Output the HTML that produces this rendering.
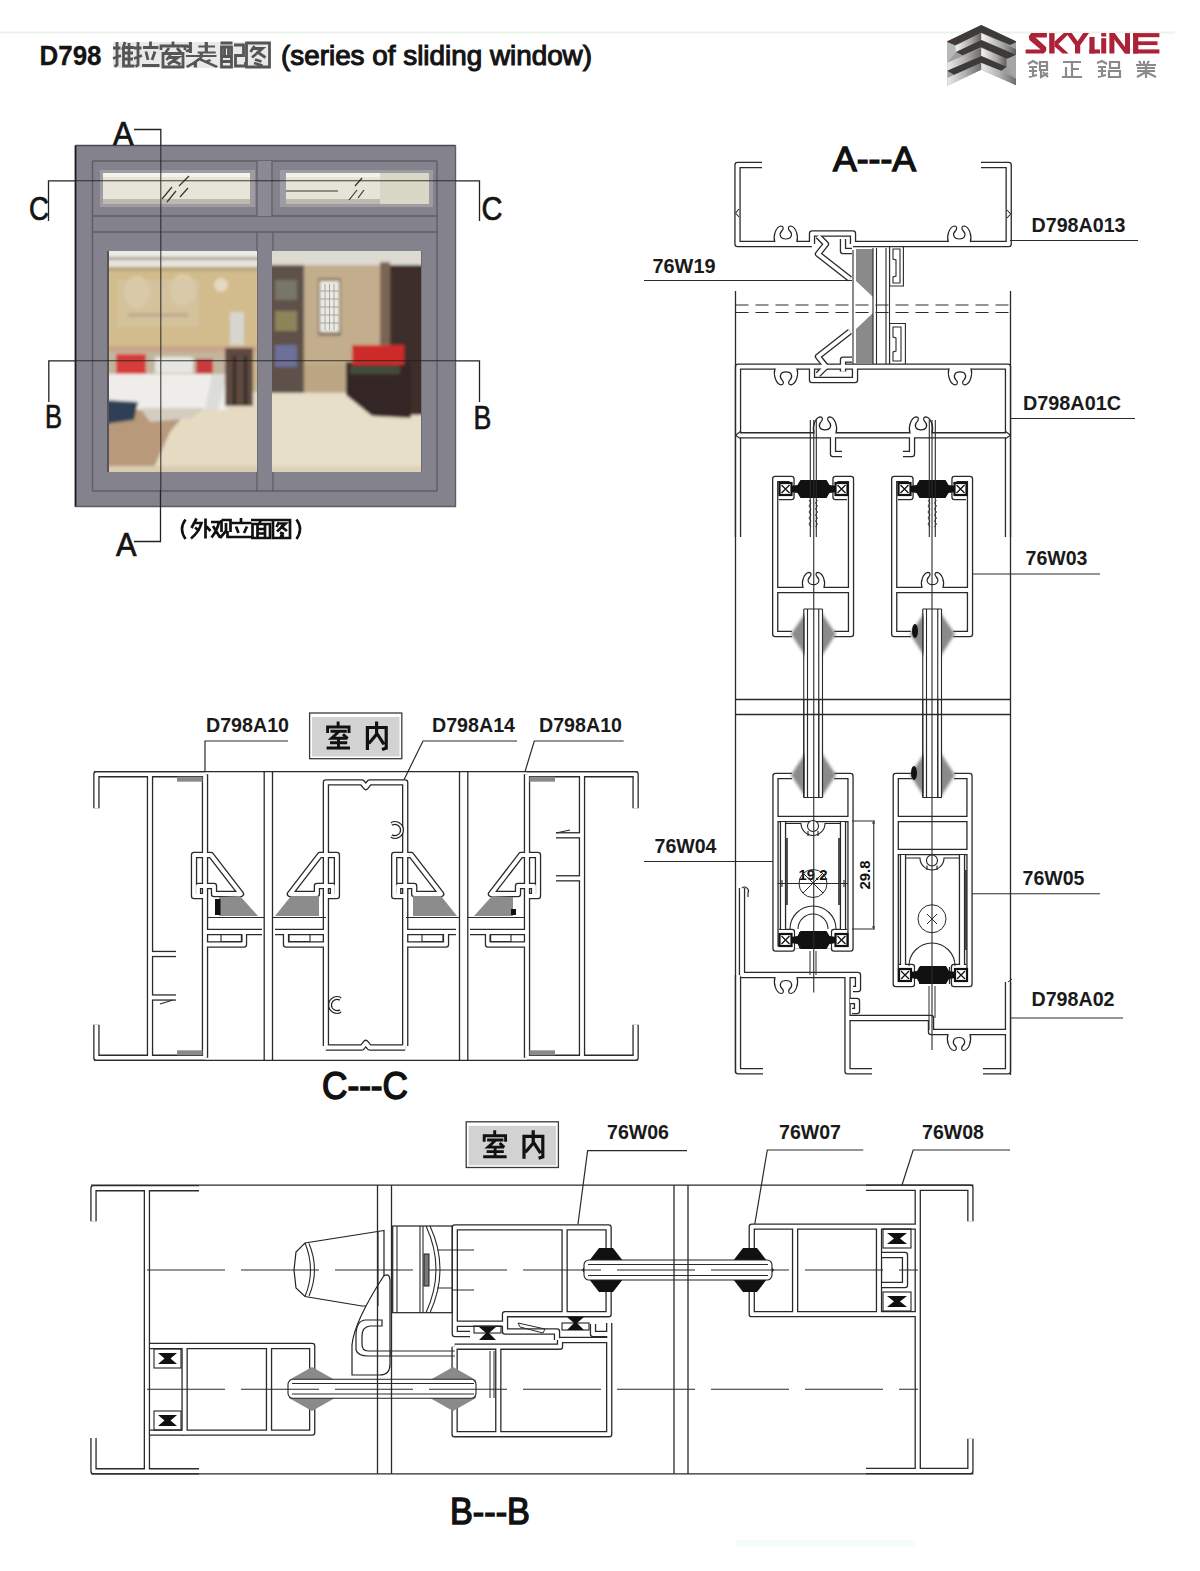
<!DOCTYPE html>
<html><head><meta charset="utf-8">
<style>
html,body{margin:0;padding:0;background:#fff;width:1200px;height:1571px;overflow:hidden}
svg{display:block;position:absolute;left:0;top:0}
text{font-family:"Liberation Sans",sans-serif}
</style></head><body>
<svg width="1200" height="1571" viewBox="0 0 1200 1571">
<defs>
<linearGradient id="lgA" x1="0" y1="0" x2="1" y2="0"><stop offset="0" stop-color="#f2f2f2"/><stop offset="0.55" stop-color="#a5a5a5"/><stop offset="1" stop-color="#6e6e6e"/></linearGradient>
<linearGradient id="lgB" x1="0" y1="0" x2="1" y2="0"><stop offset="0" stop-color="#d0d0d0"/><stop offset="1" stop-color="#7a7a7a"/></linearGradient>
<linearGradient id="wall1" x1="0" y1="0" x2="0" y2="1"><stop offset="0" stop-color="#c9b690"/><stop offset="1" stop-color="#cdb48a"/></linearGradient>
<radialGradient id="lamp" cx="0.5" cy="0.5" r="0.5"><stop offset="0" stop-color="#f3ead2"/><stop offset="1" stop-color="#f3ead2" stop-opacity="0"/></radialGradient>
<filter id="blur1" x="-20%" y="-20%" width="140%" height="140%"><feGaussianBlur stdDeviation="1.6"/></filter>
<filter id="blur05"><feGaussianBlur stdDeviation="0.6"/></filter>
</defs>
<rect width="1200" height="1571" fill="#fff"/>
<line x1="0" y1="32.5" x2="1175" y2="32.5" stroke="#e9f4ea" stroke-width="2"/>

<rect x="735" y="1540" width="180" height="7" fill="#eef7f7" opacity="0.5"/>
<!-- TITLE -->
<text x="39.5" y="65" font-size="28" font-weight="bold" fill="#141414" stroke="#141414" stroke-width="0.3" textLength="62" lengthAdjust="spacingAndGlyphs">D798</text>
<g filter="url(#blur05)">
<rect x="113" y="42" width="157" height="26" fill="#cfcfcf" opacity="0.45"/>
<g stroke="#555" stroke-width="2.8" fill="none">
<path d="M113,48 H120.5 M117,42 V65 L114.5,66.5 M113,58.5 L121,55.5 M125,42 L122.5,50 M123.5,47 V67.5 M129,43 V66 M123.5,47.5 H134 M123.5,53 H133 M123.5,59 H133 M123.5,66 H134.5"/>
<path d="M134,48 H141.5 M138,42 V65 L135.5,66.5 M134,58.5 L142,55.5 M150.5,41.5 V46 M143,47.5 H158.5 M146,51.5 L148,60 M155,51.5 L152,60 M142,65.5 H159.5"/>
<path d="M173,41.5 V45 M161,50 V46 H185 V50 M169,48 L165.5,52.5 M177,48 L181,52.5 M163,53.5 H183 V67 H163 Z M170.5,55 L166.5,60 M168,57.5 H178 L168,64.5 M172.5,60 L180.5,64.5"/>
<path transform="translate(186,0) scale(1.45,1) translate(-187,0)" stroke-width="2.2" d="M190,42 V53 M187,45 L189,47.5 M187,51.5 L191,49 M195.5,46.5 H207 M201,42 V52.5 M195,52.5 H207.5 M187,56 H208 M197.5,53.5 V57.5 M197.5,57.5 Q193,63 187.5,67 M197,59.5 L208.5,67 M193.5,62 V67.5 M200,62 L204,60"/>
<path d="M220.5,43 H232.5 M221.5,47 H231.5 V67 H221.5 Z M224.5,47 V55 M228.5,47 V55 M221.5,56.5 H231.5 M221.5,61.5 H231.5 M234,45 H243.5 V55.5 H235.5 V66 H245.5 V62"/>
<path d="M246.5,43 H269.5 V67 H246.5 Z M254.5,46 L250.5,52 M253,48.5 H262.5 L252,57.5 M256.5,51.5 L265.5,57.5 M255,59.5 L261.5,61.5 M254,63 L262.5,65.5"/>
</g>
</g>
<text x="281" y="65" font-size="28" fill="#141414" stroke="#141414" stroke-width="1.1" textLength="311" lengthAdjust="spacingAndGlyphs">(series of sliding window)</text>

<!-- LOGO emblem -->
<g>
<linearGradient id="lgC" x1="0" y1="0" x2="1" y2="0"><stop offset="0" stop-color="#e8e8e8"/><stop offset="0.5" stop-color="#b4b4b4"/><stop offset="1" stop-color="#6c6c6c"/></linearGradient>
<linearGradient id="lgD" x1="0" y1="0" x2="1" y2="0"><stop offset="0" stop-color="#f4f4f4"/><stop offset="0.6" stop-color="#a8a8a8"/><stop offset="1" stop-color="#5e5e5e"/></linearGradient>
<polygon points="947.3,41.3 981.3,25 1016,41.3 1016,85.3 981.3,69.7 947.3,85.7" fill="#9e9e9e"/>
<polygon points="947.3,42 955.3,45.7 956,52 947.3,62.7" fill="#b9b9b9"/>
<polygon points="955.3,45.7 981.3,33 981.3,40 956,52" fill="url(#lgD)"/>
<polygon points="981.3,33 1016,49.3 1016,54.7 981.3,40" fill="url(#lgD)"/>
<polygon points="947.3,62.7 981.3,48 981.3,56 947.3,70.7" fill="url(#lgC)"/>
<polygon points="981.3,48 1006.7,58.7 1006.7,66.7 981.3,56" fill="url(#lgD)"/>
<polygon points="1006.7,58.7 1016,54.7 1016,78.7 1006.7,66.7" fill="#a5a5a5"/>
<polygon points="947.3,78 981.3,62.7 981.3,69.7 947.3,85.7" fill="url(#lgC)"/>
<polygon points="981.3,62.7 1001.3,70.7 1016,78.7 1016,85.3 981.3,69.7" fill="url(#lgC)"/>
<polygon points="947.3,41.3 981.3,25 1016,41.3 1016,42.3 1010,45 981.3,32.7 955.3,45.3 947.3,42" fill="#3e3a38"/>
<polygon points="956,52 981.3,40 1016,54.7 1010,57.5 1006.7,58.7 981.3,47.3 962.7,55.3" fill="#3e3a38"/>
<polygon points="947.3,70.7 981.3,56 1006.7,66.7 1001.3,70.7 981.3,62.7 954,74.7" fill="#3e3a38"/>
</g>
<g fill="#ac2237">
<polygon points="1031.25,33.1 1046.9,33.1 1046.9,37.5 1035.6,37.5 1046.25,47.2 1046.25,50.8 1043.75,53.5 1025.6,53.5 1025.6,49.4 1040.6,49.4 1029.4,40 1028.75,36.25"/>
<rect x="1049.2" y="33.1" width="5.4" height="20.4"/>
<polygon points="1054.6,41.5 1063.8,33.1 1069.6,33.1 1057,45.5 1054.6,47"/>
<polygon points="1057.3,43.2 1068.6,53.5 1062.6,53.5 1054.6,46.5"/>
<polygon points="1066,33.1 1071.8,33.1 1077.6,41.2 1083.2,33.1 1089,33.1 1080.2,45.3 1080.2,53.5 1075,53.5 1075,45.3"/>
<rect x="1089.4" y="37" width="5.2" height="16.5"/><rect x="1089.4" y="49.4" width="10.6" height="4.1"/>
<rect x="1101.2" y="33.1" width="5" height="3.4"/><rect x="1101.2" y="38.2" width="5" height="15.3"/>
<rect x="1109.4" y="33.1" width="5" height="20.4"/><rect x="1125" y="33.1" width="5" height="20.4"/>
<polygon points="1109.4,33.1 1114.6,33.1 1130,53.5 1124.8,53.5"/>
<rect x="1133.1" y="33.1" width="5.2" height="20.4"/><rect x="1133.1" y="33.1" width="26.3" height="4.1"/><rect x="1133.1" y="41.3" width="24.4" height="3.8"/><rect x="1133.1" y="49.4" width="26.3" height="4.1"/>
</g>
<g stroke="#8a8a8a" stroke-width="2.2" fill="none">
<path d="M1028,64 L1033,61 L1038,64 M1029,67 H1037 M1029,71 H1037 M1033,67 V77 M1029,77 L1037,75 M1040,62 H1047 V70 H1040 Z M1040,66 H1047 M1041,70 V77 L1048,73 M1043,72 L1048,77"/>
<path d="M1063,62 H1081 M1072,62 V77 M1072,69 H1079 M1066,67 V77 M1062,77 H1082"/>
<path d="M1097,63 L1102,61 L1107,64 M1098,67 H1106 M1098,71 H1106 M1102,67 V77 M1098,77 L1106,75 M1110,62 H1119 V68 H1110 Z M1109,71 H1120 V77 H1109 Z"/>
<path d="M1139,61 L1141,64 M1144,61 V64 M1149,61 L1147,64 M1136,65 H1156 M1137,68 H1155 M1137,71 H1155 M1146,65 V78 M1146,72 L1137,77 M1146,72 L1156,77"/>
</g>

<!-- WINDOW ELEVATION -->
<g id="window">
<rect x="75" y="145" width="381" height="362" fill="#83828d"/>
<!-- frame lines -->
<g stroke="#5e5d66" stroke-width="1.4" fill="none">
<path d="M75.5,507 V145.5" stroke="#1a1a1a" stroke-width="1.8"/><path d="M75.5,145.5 H455.5" stroke="#4a4a52" stroke-width="1.4"/><path d="M455.5,145.5 V506.5 H75.5"/>
<line x1="92.5" y1="161" x2="437" y2="161"/>
<line x1="92.5" y1="161" x2="92.5" y2="491"/>
<line x1="437" y1="161" x2="437" y2="491"/>
<line x1="92.5" y1="491" x2="437" y2="491"/>
<line x1="92.5" y1="216" x2="437" y2="216"/>
<line x1="92.5" y1="232" x2="437" y2="232"/>
</g>
<!-- transom glass -->
<rect x="100" y="170" width="155" height="37" fill="#9d9ca2"/>
<rect x="103" y="173" width="147" height="31" fill="#e7e5d8"/>
<rect x="103" y="173" width="147" height="4" fill="#f4f2ea"/>
<rect x="103" y="199" width="147" height="5" fill="#bcbab0"/>
<rect x="280" y="170" width="153" height="37" fill="#9d9ca2"/>
<rect x="286" y="173" width="143" height="31" fill="#e6e4d6"/>
<rect x="286" y="173" width="143" height="4" fill="#f3f1e8"/>
<rect x="286" y="199" width="143" height="5" fill="#bcbab0"/>
<rect x="380" y="173" width="49" height="31" fill="#d9d7c6"/>
<rect x="257" y="161" width="15" height="55" fill="#8a8994"/>
<g stroke="#5e5d66" stroke-width="1.2">
<line x1="257" y1="161" x2="257" y2="216"/><line x1="272" y1="161" x2="272" y2="216"/>
<line x1="257" y1="232" x2="257" y2="491"/><line x1="273" y1="232" x2="273" y2="491"/>
<line x1="108" y1="251" x2="108" y2="472" stroke="#3a3530"/><line x1="421" y1="251" x2="421" y2="472"/>
</g>
<g stroke="#333" stroke-width="1.2">
<path d="M162,199 L172,187 M167,202 L176,191 M180,197 L188,188 M179,186 L189,176"/>
<path d="M349,200 L357,190 M358,198 L364,190 M355,186 L362,178"/>
<path d="M286,191 H338"/>
</g>

<!-- LEFT PHOTO PANE -->
<clipPath id="cpL"><rect x="109" y="251" width="148" height="221"/></clipPath>
<clipPath id="cpR"><rect x="272" y="251" width="149" height="221"/></clipPath>
<g clip-path="url(#cpL)"><g filter="url(#blur1)">
<rect x="105" y="247" width="156" height="229" fill="#c9b58e"/>
<rect x="105" y="247" width="156" height="10" fill="#ecebe6"/>
<rect x="105" y="257" width="156" height="3" fill="#a9a397"/>
<rect x="105" y="260" width="156" height="7" fill="#e8e4da"/>
<rect x="105" y="267" width="156" height="4" fill="#b7a27c"/>
<rect x="105" y="271" width="156" height="80" fill="#d2bb8c"/>
<ellipse cx="137" cy="292" rx="13" ry="16" fill="#e3d7b8" opacity="0.6"/>
<ellipse cx="183" cy="290" rx="13" ry="16" fill="#e3d7b8" opacity="0.6"/>
<ellipse cx="221" cy="285" rx="7" ry="7" fill="#e9e0cc" opacity="0.8"/>
<rect x="117" y="280" width="82" height="47" fill="#d6c8aa" opacity="0.55"/>
<rect x="128" y="313" width="60" height="4" fill="#b09a88" opacity="0.6"/>
<rect x="230" y="312" width="14" height="33" fill="#d7d6cf"/>
<rect x="105" y="346" width="156" height="6" fill="#c9a688"/>
<rect x="105" y="352" width="120" height="22" fill="#c2b59c"/>
<rect x="116" y="354" width="30" height="22" fill="#d83a3a"/>
<rect x="196" y="359" width="17" height="17" fill="#c93a3a"/>
<rect x="155" y="357" width="38" height="16" fill="#e6e6e2"/>
<rect x="105" y="392" width="156" height="84" fill="#e4dbc2"/>
<polygon points="105,410 190,408 170,432 150,476 105,476" fill="#b8997a"/>
<rect x="105" y="374" width="122" height="36" fill="#eeedea"/>
<polygon points="212,374 227,374 218,410 205,410" fill="#dcdcd8"/>
<rect x="225" y="348" width="28" height="58" fill="#5f4a3f"/>
<rect x="233" y="356" width="3" height="50" fill="#2f2520"/>
<rect x="244" y="356" width="3" height="50" fill="#2f2520"/>
<polygon points="105,400 138,402 134,420 105,424" fill="#2e4054"/>
<polygon points="140,408 205,408 192,418 150,422" fill="#d4cdbf"/>
<rect x="105" y="466" width="156" height="10" fill="#d9cbb0"/>
</g></g>
<!-- RIGHT PHOTO PANE -->
<g clip-path="url(#cpR)"><g filter="url(#blur1)">
<rect x="268" y="247" width="157" height="229" fill="#c7b596"/>
<rect x="268" y="247" width="157" height="18" fill="#dddad2"/>
<rect x="268" y="393" width="157" height="83" fill="#e8dfca"/>
<rect x="268" y="265" width="36" height="128" fill="#5d5148"/>
<rect x="275" y="280" width="22" height="20" fill="#787666"/>
<rect x="275" y="311" width="22" height="20" fill="#8f835a"/>
<rect x="275" y="345" width="22" height="22" fill="#6d6f98"/>
<rect x="304" y="266" width="77" height="126" fill="#c2ad8c"/>
<rect x="318" y="278" width="23" height="58" fill="#8c7b66"/>
<rect x="320" y="281" width="19" height="51" fill="#eceae2"/>
<rect x="304" y="364" width="77" height="28" fill="#bba583"/>
<rect x="388" y="265" width="37" height="150" fill="#3d2d2a"/><rect x="380" y="262" width="10" height="100" fill="#7a6555"/>
<polygon points="346,362 411,362 411,418 372,416 346,395" fill="#352826"/>
<rect x="352" y="345" width="52" height="20" fill="#cf2c2c"/>
<rect x="350" y="366" width="50" height="8" fill="#4a5a3e" opacity="0.7"/>
<rect x="268" y="466" width="157" height="10" fill="#ddd2b9"/>
</g>
<g stroke="#9aa09a" stroke-width="0.9"><path d="M325,284 V330 M329.5,284 V330 M334,284 V330 M320,291 H339 M320,299 H339 M320,307 H339 M320,315 H339 M320,323 H339"/></g>
</g>
<!-- labels & section leaders -->
<g stroke="#222" stroke-width="1.3" fill="none">
<path d="M134,129.5 H160.8 V145"/>
<path d="M160.5,490 V541.5 H134"/>
<path d="M48.5,221 V180.8 H75"/>
<path d="M479.5,221 V180.8 H456"/>
<path d="M48.8,402 V360.8 H75"/>
<path d="M479.5,402 V360.8 H456"/>
</g>
<g stroke="#1e1e1e" stroke-width="1.1" fill="none" opacity="0.85">
<path d="M160.8,145 V490 M75,180.8 H456 M75,360.8 H456"/>
</g>
<g fill="#141414" font-size="33" stroke="#141414" stroke-width="0.7">
<text x="113" y="144.5" textLength="20.5" lengthAdjust="spacingAndGlyphs">A</text>
<text x="116" y="555.5" textLength="20.5" lengthAdjust="spacingAndGlyphs">A</text>
<text x="29" y="219.5" textLength="20" lengthAdjust="spacingAndGlyphs">C</text>
<text x="481.5" y="220" textLength="21" lengthAdjust="spacingAndGlyphs">C</text>
<text x="45" y="428" textLength="17" lengthAdjust="spacingAndGlyphs">B</text>
<text x="473.6" y="428.5" textLength="17.8" lengthAdjust="spacingAndGlyphs">B</text>
</g>
<!-- (外观立面图) approximations -->
<g stroke="#111" stroke-width="2.7" fill="none">
<path stroke-width="2.6" d="M185.5,519.5 Q178.5,529 185.5,539 M296.5,519.5 Q303.5,529 296.5,539"/>
<path d="M196.5,518.5 L191.5,528 M194,523 H201.5 Q199,532 191,538.5 M195,527.5 L199.5,531 M205.5,518.5 V538.5 M206.5,526.5 L210.5,531"/>
<path d="M211,522 H219 Q217,531 211.5,537.5 M213,526 L220,537.5 M221.5,520 H230.5 V532 M221.5,520 V532 M226,523 V531 L220,538 M227.5,531 V537 H231"/>
<path d="M241,518 V522.5 M231.5,523 H251.5 M236,526.5 L238.5,533 M247,526.5 L244,533 M230.5,537 H252.5"/>
<path d="M251,520 H272 M261,520 L259,524 M252.5,524 H270 V538 H252.5 Z M257.5,524 V538 M265,524 V538 M257.5,529 H265 M257.5,533.5 H265"/>
<path d="M273,520 H290 V538 H273 Z M279,522 L276.5,527 M278,523.5 H285.5 L277,531.5 M280.5,526 L287,531 M280,532.5 L284,534 M280,535.5 L284,536.5"/>
</g>
</g>

<g fill="none" stroke-linejoin="round" stroke-linecap="butt">
<g stroke="#2a2a2a" stroke-width="6.4">
<path d="M96.4,808.3 V774.2 H205"/><path d="M96.4,1024.7 V1057.8 H205"/><path d="M150,774.2 V1057.8"/><path d="M205,774.2 V1057.8"/><path d="M204,896 H194 V855 H211 L241,894 H214 V886 H198 V896"/><path d="M205,932 H262 M205,944.5 H244 V932"/><path d="M635.6,808.3 V774.2 H527"/><path d="M635.6,1024.7 V1057.8 H527"/><path d="M582,774.2 V1057.8"/><path d="M527,774.2 V1057.8"/><path d="M528,896 H538 V855 H521 L491,894 H518 V886 H534 V896"/><path d="M527,932 H470 M527,944.5 H488 V932"/><path d="M150,954 H176"/><path d="M150,997.5 H176"/><path d="M580.8,835.3 H556"/><path d="M580.8,878.3 H556"/><path d="M325.9,852.5 V782.4 H362 L365.8,787 L369.6,782.4 H405.2 V852.5"/><path d="M325.9,852 V1046 M405.2,852 V1046"/><path d="M325.9,1047.5 H362 L365.8,1043 L369.6,1047.5 H405.2"/><path d="M326.9,896 H336.9 V855 H319.9 L289.9,894 H316.9 V886 H332.9 V896"/><path d="M404.2,896 H394.2 V855 H411.2 L441.2,894 H414.2 V886 H398.2 V896"/><path d="M326,932 H275 M406,932 H456"/><path d="M326,944.5 H286 V932 M406,944.5 H446 V932"/><path d="M762,165 H737.5 V244 H812"/><path d="M981,165 H1008.7 V244 H853"/><path d="M812,244 V233.5 H853 V244"/><path d="M818,236 L826,244 L818,254 L850,279"/><path d="M843,239 V251 H852"/><path d="M738,537 V366.6 H1008 V537"/><path d="M812,366.6 V380 H855 V366.6"/><path d="M818,374.6 L826,366.6 L818,356.6 L850,331.6"/><path d="M843,371.6 V359.6 H852"/><path d="M738,435.3 H1008"/><path d="M833,437 V454 H842 M912,437 V454 H903"/><path d="M792,634 H775.2 V479 H791.5 V497 H779"/><path d="M834,634 H851 V479 H835.5 V497 H847"/><path d="M775.2,590 H851"/><path d="M911,634 H894.2 V479 H910.5 V497 H898"/><path d="M953,634 H970 V479 H954.5 V497 H966"/><path d="M894.2,590 H970"/><path d="M775.5,819 V776 H792 M850.5,819 V776 H834"/><path d="M775.5,819 H850.5"/><path d="M775.5,819 V948.5 H792 V932 H779 M850.5,819 V948.5 H834 V932 H847"/><path d="M783,822 V929 M843,822 V929"/><path d="M797,948.5 V932 M829,948.5 V932"/><path d="M895.75,819 V776 H912 M969.5,819 V776 H954"/><path d="M895.75,819 H969.5"/><path d="M895.75,852 H969.5"/><path d="M895.75,819 V984 H912 V967 H899 M969.5,819 V984 H954 V967 H966"/><path d="M903,855 V965 M962,855 V965"/><path d="M917,984 V967 M947,984 V967"/><path d="M742,888 V975 H858 V989 H853"/><path d="M850,1001 H857 V1011 H852"/><path d="M738,975 V1071.25 H763"/><path d="M847.5,975 V1071.25 H872"/><path d="M847.5,1018 H931 V1032 H1008"/><path d="M1008,982 V1071.25 H983"/><path d="M93.5,1221.2 V1188.2 H199"/><path d="M93.5,1438 V1471.3 H199"/><path d="M146.9,1188.2 V1471.3"/><path d="M970.4,1221.3 V1187.75 H866"/><path d="M970.4,1438.7 V1471 H866"/><path d="M917.75,1187.75 V1471"/><path d="M184.6,1346 H312.2 V1432.6 H184.6 Z"/><path d="M269,1346 V1432.6"/><path d="M150,1346 H184.6 M150,1432.6 H184.6"/><path d="M470,1334 H454.8 V1227.35 H608.6 V1250 M608.6,1290 V1314.2 H505 V1323.75 H454.8"/><path d="M564.6,1227.35 V1314.2"/><path d="M505,1323.75 V1331.5 H557 V1340"/><path d="M454.6,1346.7 V1434.2 H609.2 V1323"/><path d="M454.6,1346.7 H560 V1340 H609.2"/><path d="M498.3,1346.7 V1434.2"/><path d="M609.2,1334 H593 V1324"/><path d="M751.75,1250 V1226.65 H917.75 M751.75,1290 V1314.15 H917.75"/><path d="M795.1,1226.65 V1314.15"/><path d="M879,1226.65 V1314.15"/><path d="M882,1255 H905 V1285 H882"/>
</g>
<g stroke="#fff" stroke-width="3.8">
<path d="M96.4,808.3 V774.2 H205"/><path d="M96.4,1024.7 V1057.8 H205"/><path d="M150,774.2 V1057.8"/><path d="M205,774.2 V1057.8"/><path d="M204,896 H194 V855 H211 L241,894 H214 V886 H198 V896"/><path d="M205,932 H262 M205,944.5 H244 V932"/><path d="M635.6,808.3 V774.2 H527"/><path d="M635.6,1024.7 V1057.8 H527"/><path d="M582,774.2 V1057.8"/><path d="M527,774.2 V1057.8"/><path d="M528,896 H538 V855 H521 L491,894 H518 V886 H534 V896"/><path d="M527,932 H470 M527,944.5 H488 V932"/><path d="M150,954 H176"/><path d="M150,997.5 H176"/><path d="M580.8,835.3 H556"/><path d="M580.8,878.3 H556"/><path d="M325.9,852.5 V782.4 H362 L365.8,787 L369.6,782.4 H405.2 V852.5"/><path d="M325.9,852 V1046 M405.2,852 V1046"/><path d="M325.9,1047.5 H362 L365.8,1043 L369.6,1047.5 H405.2"/><path d="M326.9,896 H336.9 V855 H319.9 L289.9,894 H316.9 V886 H332.9 V896"/><path d="M404.2,896 H394.2 V855 H411.2 L441.2,894 H414.2 V886 H398.2 V896"/><path d="M326,932 H275 M406,932 H456"/><path d="M326,944.5 H286 V932 M406,944.5 H446 V932"/><path d="M762,165 H737.5 V244 H812"/><path d="M981,165 H1008.7 V244 H853"/><path d="M812,244 V233.5 H853 V244"/><path d="M818,236 L826,244 L818,254 L850,279"/><path d="M843,239 V251 H852"/><path d="M738,537 V366.6 H1008 V537"/><path d="M812,366.6 V380 H855 V366.6"/><path d="M818,374.6 L826,366.6 L818,356.6 L850,331.6"/><path d="M843,371.6 V359.6 H852"/><path d="M738,435.3 H1008"/><path d="M833,437 V454 H842 M912,437 V454 H903"/><path d="M792,634 H775.2 V479 H791.5 V497 H779"/><path d="M834,634 H851 V479 H835.5 V497 H847"/><path d="M775.2,590 H851"/><path d="M911,634 H894.2 V479 H910.5 V497 H898"/><path d="M953,634 H970 V479 H954.5 V497 H966"/><path d="M894.2,590 H970"/><path d="M775.5,819 V776 H792 M850.5,819 V776 H834"/><path d="M775.5,819 H850.5"/><path d="M775.5,819 V948.5 H792 V932 H779 M850.5,819 V948.5 H834 V932 H847"/><path d="M783,822 V929 M843,822 V929"/><path d="M797,948.5 V932 M829,948.5 V932"/><path d="M895.75,819 V776 H912 M969.5,819 V776 H954"/><path d="M895.75,819 H969.5"/><path d="M895.75,852 H969.5"/><path d="M895.75,819 V984 H912 V967 H899 M969.5,819 V984 H954 V967 H966"/><path d="M903,855 V965 M962,855 V965"/><path d="M917,984 V967 M947,984 V967"/><path d="M742,888 V975 H858 V989 H853"/><path d="M850,1001 H857 V1011 H852"/><path d="M738,975 V1071.25 H763"/><path d="M847.5,975 V1071.25 H872"/><path d="M847.5,1018 H931 V1032 H1008"/><path d="M1008,982 V1071.25 H983"/><path d="M93.5,1221.2 V1188.2 H199"/><path d="M93.5,1438 V1471.3 H199"/><path d="M146.9,1188.2 V1471.3"/><path d="M970.4,1221.3 V1187.75 H866"/><path d="M970.4,1438.7 V1471 H866"/><path d="M917.75,1187.75 V1471"/><path d="M184.6,1346 H312.2 V1432.6 H184.6 Z"/><path d="M269,1346 V1432.6"/><path d="M150,1346 H184.6 M150,1432.6 H184.6"/><path d="M470,1334 H454.8 V1227.35 H608.6 V1250 M608.6,1290 V1314.2 H505 V1323.75 H454.8"/><path d="M564.6,1227.35 V1314.2"/><path d="M505,1323.75 V1331.5 H557 V1340"/><path d="M454.6,1346.7 V1434.2 H609.2 V1323"/><path d="M454.6,1346.7 H560 V1340 H609.2"/><path d="M498.3,1346.7 V1434.2"/><path d="M609.2,1334 H593 V1324"/><path d="M751.75,1250 V1226.65 H917.75 M751.75,1290 V1314.15 H917.75"/><path d="M795.1,1226.65 V1314.15"/><path d="M879,1226.65 V1314.15"/><path d="M882,1255 H905 V1285 H882"/>
</g>
</g>
<rect x="177" y="776.7" width="25.5" height="5" fill="#8a8a8a"/><rect x="177" y="1050.3" width="25.5" height="5" fill="#8a8a8a"/><polygon points="219,897 240,896 258,916 219,916" fill="#8c8c8c" filter="url(#blur05)"/><rect x="215" y="899" width="5.5" height="16" fill="#111"/><rect x="529.5" y="776.7" width="25.5" height="5" fill="#8a8a8a"/><rect x="529.5" y="1050.3" width="25.5" height="5" fill="#8a8a8a"/><polygon points="513,897 492,896 474,916 513,916" fill="#8c8c8c" filter="url(#blur05)"/><rect x="511" y="909" width="5" height="6" fill="#111"/><polygon points="291,896 319,896 319,916 275,916" fill="#8c8c8c" filter="url(#blur05)"/><polygon points="441,896 413,896 413,916 457,916" fill="#8c8c8c" filter="url(#blur05)"/><path d="M391.5,823.9 A7,7 0 1 1 391.5,836.1" fill="none" stroke="#222" stroke-width="4"/><path d="M391.5,823.9 A7,7 0 1 1 391.5,836.1" fill="none" stroke="#fff" stroke-width="1.6"/><path d="M340.5,998.9 A7,7 0 1 0 340.5,1011.1" fill="none" stroke="#222" stroke-width="4"/><path d="M340.5,998.9 A7,7 0 1 0 340.5,1011.1" fill="none" stroke="#fff" stroke-width="1.6"/><text x="322" y="1098.5" font-size="38" fill="#111" textLength="86" lengthAdjust="spacingAndGlyphs" stroke="#111" stroke-width="1.5">C---C</text><rect x="309.6" y="713" width="92.2" height="45.7" fill="#fff" stroke="#3a3a3a" stroke-width="1.3"/><rect x="312" y="717" width="87.5" height="39.5" fill="#d2d2d2"/><g stroke="#111" stroke-width="3.2" fill="none" stroke-linecap="butt"><path stroke-width="2.9" d="M338.1,721.5 V727 M327.6,733 V727 H349 V733 M330.5,731.2 H346.8 M339,731.5 L331.5,738.3 H347.5 M343,734.2 L347.7,738.6 M338.5,738.3 V748 M330,742.8 H347.2 M326.6,748 H350"/><path d="M367.4,750 V727.5 H386.2 V748 L382,749.5 M376.6,721.5 V734.4 L368.8,743.5 M376.6,733 L384,744.4"/></g><rect x="775.8" y="240.7" width="20.0" height="2.5" fill="#fff"/><path d="M774.8,242.0 C772.8,236.0 775.8,227.0 780.8,226.0 C783.8,226.0 783.8,229.0 781.8,231.0 C778.8,234.0 779.8,239.0 785.8,239.0 C791.8,239.0 792.8,234.0 789.8,231.0 C787.8,229.0 787.8,226.0 790.8,226.0 C795.8,227.0 798.8,236.0 796.8,242.0" fill="#fff" stroke="#222" stroke-width="1.2"/><rect x="949.3" y="240.7" width="20.0" height="2.5" fill="#fff"/><path d="M948.3,242.0 C946.3,236.0 949.3,227.0 954.3,226.0 C957.3,226.0 957.3,229.0 955.3,231.0 C952.3,234.0 953.3,239.0 959.3,239.0 C965.3,239.0 966.3,234.0 963.3,231.0 C961.3,229.0 961.3,226.0 964.3,226.0 C969.3,227.0 972.3,236.0 970.3,242.0" fill="#fff" stroke="#222" stroke-width="1.2"/><polygon points="856,249 873,249 873,297 856,281" fill="#8a8a8a" filter="url(#blur05)"/><polygon points="873,313 873,364 856,364 856,329" fill="#8a8a8a" filter="url(#blur05)"/><rect x="776.0" y="367.6" width="20.0" height="2.5" fill="#fff"/><path d="M775.0,368.8 C773.0,374.8 776.0,383.8 781.0,384.8 C784.0,384.8 784.0,381.8 782.0,379.8 C779.0,376.8 780.0,371.8 786.0,371.8 C792.0,371.8 793.0,376.8 790.0,379.8 C788.0,381.8 788.0,384.8 791.0,384.8 C796.0,383.8 799.0,374.8 797.0,368.8" fill="#fff" stroke="#222" stroke-width="1.2"/><rect x="950.0" y="367.6" width="20.0" height="2.5" fill="#fff"/><path d="M949.0,368.8 C947.0,374.8 950.0,383.8 955.0,384.8 C958.0,384.8 958.0,381.8 956.0,379.8 C953.0,376.8 954.0,371.8 960.0,371.8 C966.0,371.8 967.0,376.8 964.0,379.8 C962.0,381.8 962.0,384.8 965.0,384.8 C970.0,383.8 973.0,374.8 971.0,368.8" fill="#fff" stroke="#222" stroke-width="1.2"/><rect x="815.0" y="431.5" width="20.0" height="2.5" fill="#fff"/><path d="M814.0,432.8 C812.0,426.8 815.0,417.8 820.0,416.8 C823.0,416.8 823.0,419.8 821.0,421.8 C818.0,424.8 819.0,429.8 825.0,429.8 C831.0,429.8 832.0,424.8 829.0,421.8 C827.0,419.8 827.0,416.8 830.0,416.8 C835.0,417.8 838.0,426.8 836.0,432.8" fill="#fff" stroke="#222" stroke-width="1.2"/><rect x="911.0" y="431.5" width="20.0" height="2.5" fill="#fff"/><path d="M910.0,432.8 C908.0,426.8 911.0,417.8 916.0,416.8 C919.0,416.8 919.0,419.8 917.0,421.8 C914.0,424.8 915.0,429.8 921.0,429.8 C927.0,429.8 928.0,424.8 925.0,421.8 C923.0,419.8 923.0,416.8 926.0,416.8 C931.0,417.8 934.0,426.8 932.0,432.8" fill="#fff" stroke="#222" stroke-width="1.2"/><polygon points="790.5,486.0 797.5,485.0 800.5,480 826.5,480 829.5,485.0 836.5,486.0 836.5,492.0 829.5,493.0 826.5,498 800.5,498 797.5,493.0 790.5,492.0" fill="#111"/><rect x="779.5" y="483.0" width="12" height="12" fill="#fff" stroke="#111" stroke-width="2.2"/><path d="M781.5,485.0 l8,8 M789.5,485.0 l-8,8" stroke="#111" stroke-width="1.3"/><rect x="835.5" y="483.0" width="12" height="12" fill="#fff" stroke="#111" stroke-width="2.2"/><path d="M837.5,485.0 l8,8 M845.5,485.0 l-8,8" stroke="#111" stroke-width="1.3"/><rect x="804.0" y="586.2" width="19.0" height="2.5" fill="#fff"/><path d="M803.0,587.5 C801.1,581.8 804.0,573.2 808.8,572.3 C811.6,572.3 811.6,575.1 809.7,577.0 C806.9,579.9 807.8,584.6 813.5,584.6 C819.2,584.6 820.1,579.9 817.3,577.0 C815.4,575.1 815.4,572.3 818.2,572.3 C823.0,573.2 825.9,581.8 824.0,587.5" fill="#fff" stroke="#222" stroke-width="1.2"/><polygon points="806,612 791,634 806,657 821,612 836,634 821,657" fill="#8a8a8a" filter="url(#blur1)"/><rect x="805" y="609" width="18" height="90" fill="#fff"/><polygon points="806,752 791,775 806,798 821,752 836,775 821,798" fill="#8a8a8a" filter="url(#blur1)"/><rect x="805" y="700" width="18" height="97" fill="#fff"/><polygon points="909.5,486.0 916.5,485.0 919.5,480 945.5,480 948.5,485.0 955.5,486.0 955.5,492.0 948.5,493.0 945.5,498 919.5,498 916.5,493.0 909.5,492.0" fill="#111"/><rect x="898.5" y="483.0" width="12" height="12" fill="#fff" stroke="#111" stroke-width="2.2"/><path d="M900.5,485.0 l8,8 M908.5,485.0 l-8,8" stroke="#111" stroke-width="1.3"/><rect x="954.5" y="483.0" width="12" height="12" fill="#fff" stroke="#111" stroke-width="2.2"/><path d="M956.5,485.0 l8,8 M964.5,485.0 l-8,8" stroke="#111" stroke-width="1.3"/><rect x="923.0" y="586.2" width="19.0" height="2.5" fill="#fff"/><path d="M922.0,587.5 C920.1,581.8 923.0,573.2 927.8,572.3 C930.6,572.3 930.6,575.1 928.7,577.0 C925.9,579.9 926.8,584.6 932.5,584.6 C938.2,584.6 939.1,579.9 936.3,577.0 C934.4,575.1 934.4,572.3 937.2,572.3 C942.0,573.2 944.9,581.8 943.0,587.5" fill="#fff" stroke="#222" stroke-width="1.2"/><polygon points="925,612 910,634 925,657 940,612 955,634 940,657" fill="#8a8a8a" filter="url(#blur1)"/><rect x="924" y="609" width="18" height="90" fill="#fff"/><polygon points="925,752 910,775 925,798 940,752 955,775 940,798" fill="#8a8a8a" filter="url(#blur1)"/><rect x="924" y="700" width="18" height="97" fill="#fff"/><ellipse cx="915" cy="631" rx="3" ry="7" fill="#111"/><ellipse cx="914" cy="773" rx="3" ry="7" fill="#111"/><polygon points="790.5,937.0 797.5,936.0 800.5,931 826.5,931 829.5,936.0 836.5,937.0 836.5,943.0 829.5,944.0 826.5,949 800.5,949 797.5,944.0 790.5,943.0" fill="#111"/><rect x="779.5" y="934.0" width="12" height="12" fill="#fff" stroke="#111" stroke-width="2.2"/><path d="M781.5,936.0 l8,8 M789.5,936.0 l-8,8" stroke="#111" stroke-width="1.3"/><rect x="835.5" y="934.0" width="12" height="12" fill="#fff" stroke="#111" stroke-width="2.2"/><path d="M837.5,936.0 l8,8 M845.5,936.0 l-8,8" stroke="#111" stroke-width="1.3"/><path d="M786,823.5 H801 A12,12 0 0 0 825,823.5 H840" fill="none" stroke="#222" stroke-width="1.1"/><circle cx="813" cy="826" r="5.5" fill="#fff" stroke="#222" stroke-width="1.1"/><path d="M808,831 V836 M818,831 V836" stroke="#222" stroke-width="1.1"/><text x="813" y="880" font-size="15" font-weight="bold" fill="#111" text-anchor="middle" textLength="29" lengthAdjust="spacingAndGlyphs">19.2</text><text transform="translate(869.5,875) rotate(-90)" font-size="15" font-weight="bold" fill="#111" text-anchor="middle" textLength="29" lengthAdjust="spacingAndGlyphs">29.8</text><polygon points="910,972.0 917,971.0 920,966 946,966 949,971.0 956,972.0 956,978.0 949,979.0 946,984 920,984 917,979.0 910,978.0" fill="#111"/><rect x="899" y="969.0" width="12" height="12" fill="#fff" stroke="#111" stroke-width="2.2"/><path d="M901,971.0 l8,8 M909,971.0 l-8,8" stroke="#111" stroke-width="1.3"/><rect x="955" y="969.0" width="12" height="12" fill="#fff" stroke="#111" stroke-width="2.2"/><path d="M957,971.0 l8,8 M965,971.0 l-8,8" stroke="#111" stroke-width="1.3"/><path d="M906,858 H920 A12,12 0 0 0 944,858 H959" fill="none" stroke="#222" stroke-width="1.1"/><circle cx="932" cy="860.5" r="5.5" fill="#fff" stroke="#222" stroke-width="1.1"/><path d="M927,865.5 V870 M937,865.5 V870" stroke="#222" stroke-width="1.1"/><path d="M742,888 a4,4 0 0 1 6,5 V897" fill="none" stroke="#222" stroke-width="1.1"/><rect x="776.0" y="976.3" width="20.0" height="2.5" fill="#fff"/><path d="M775.0,977.5 C773.0,983.5 776.0,992.5 781.0,993.5 C784.0,993.5 784.0,990.5 782.0,988.5 C779.0,985.5 780.0,980.5 786.0,980.5 C792.0,980.5 793.0,985.5 790.0,988.5 C788.0,990.5 788.0,993.5 791.0,993.5 C796.0,992.5 799.0,983.5 797.0,977.5" fill="#fff" stroke="#222" stroke-width="1.2"/><rect x="949.0" y="1033.3" width="20.0" height="2.5" fill="#fff"/><path d="M948.0,1034.5 C946.0,1040.5 949.0,1049.5 954.0,1050.5 C957.0,1050.5 957.0,1047.5 955.0,1045.5 C952.0,1042.5 953.0,1037.5 959.0,1037.5 C965.0,1037.5 966.0,1042.5 963.0,1045.5 C961.0,1047.5 961.0,1050.5 964.0,1050.5 C969.0,1049.5 972.0,1040.5 970.0,1034.5" fill="#fff" stroke="#222" stroke-width="1.2"/><text x="833" y="170.5" font-size="35" fill="#111" textLength="83" lengthAdjust="spacingAndGlyphs" stroke="#111" stroke-width="1.4">A---A</text><rect x="154" y="1349" width="27" height="19" fill="none" stroke="#222" stroke-width="1.1"/><polygon points="158,1353 177,1353 170.5,1358.5 177,1364 158,1364 164.5,1358.5" fill="#111"/><rect x="154" y="1411" width="27" height="19" fill="none" stroke="#222" stroke-width="1.1"/><polygon points="158,1415 177,1415 170.5,1420.5 177,1426 158,1426 164.5,1420.5" fill="#111"/><polygon points="289,1380 312,1367 335,1380 335,1398 312,1411 289,1398" fill="#8a8a8a" filter="url(#blur05)"/><polygon points="430,1380 453,1367 476,1380 476,1398 453,1411 430,1398" fill="#8a8a8a" filter="url(#blur05)"/><rect x="288" y="1379.3" width="188" height="19" rx="5" fill="#fff" stroke="#222" stroke-width="1.1"/><polygon points="582,1270 599,1248 613,1248 630,1270 613,1292 599,1292" fill="#111"/><polygon points="726,1270 743,1248 757,1248 774,1270 757,1292 743,1292" fill="#111"/><rect x="584" y="1260" width="188" height="20" rx="5" fill="#fff" stroke="#222" stroke-width="1.1"/><rect x="474" y="1326" width="27" height="7" fill="none" stroke="#222" stroke-width="1.1"/><polygon points="479,1327 496,1327 489,1333 496,1340 479,1340 486,1333" fill="#111"/><rect x="562" y="1323" width="27" height="7" fill="none" stroke="#222" stroke-width="1.1"/><polygon points="567,1317 584,1317 577,1323 584,1330 567,1330 574,1323" fill="#111"/><g fill="#fff" stroke="#222" stroke-width="1.2"><path d="M384,1230.5 L305,1243 L296,1252 L294,1270 L296,1288 L305,1296.5 L362,1306 L384,1306 Z"/><path d="M383.7,1276 Q390,1272 390,1282 V1364 Q390,1375 380,1375 H352 V1345 Q354,1322 383.7,1276 Z"/><path d="M382,1320 H365 Q356,1321 356,1336 V1350 Q358,1356 368,1356 H390 V1351 H368 Q362,1351 362,1344 V1336 Q362,1327 370,1326 H382 Z"/><rect x="392.7" y="1226" width="59.3" height="86.7"/></g><rect x="424" y="1254" width="5" height="32" fill="#777" stroke="#222" stroke-width="1"/><rect x="883" y="1229" width="28" height="19" fill="none" stroke="#222" stroke-width="1.1"/><polygon points="887,1233 907,1233 900.0,1238.5 907,1244 887,1244 894.0,1238.5" fill="#111"/><rect x="883" y="1292" width="28" height="19" fill="none" stroke="#222" stroke-width="1.1"/><polygon points="887,1296 907,1296 900.0,1301.5 907,1307 887,1307 894.0,1301.5" fill="#111"/><text x="450" y="1523.6" font-size="37" fill="#111" textLength="80" lengthAdjust="spacingAndGlyphs" stroke="#111" stroke-width="1.4">B---B</text><g transform="translate(156.6,408.8)"><rect x="309.6" y="713" width="92.2" height="45.7" fill="#fff" stroke="#3a3a3a" stroke-width="1.3"/><rect x="312" y="717" width="87.5" height="39.5" fill="#d2d2d2"/><g stroke="#111" stroke-width="3.2" fill="none" stroke-linecap="butt"><path stroke-width="2.9" d="M338.1,721.5 V727 M327.6,733 V727 H349 V733 M330.5,731.2 H346.8 M339,731.5 L331.5,738.3 H347.5 M343,734.2 L347.7,738.6 M338.5,738.3 V748 M330,742.8 H347.2 M326.6,748 H350"/><path d="M367.4,750 V727.5 H386.2 V748 L382,749.5 M376.6,721.5 V734.4 L368.8,743.5 M376.6,733 L384,744.4"/></g></g>
<path d="M221,934.5 V941.5 H242 V934.5" fill="none" stroke="#2a2a2a" stroke-width="1.1"/><path d="M207.5,917.5 H264" fill="none" stroke="#2a2a2a" stroke-width="1.1"/><path d="M264.2,771.7 V1060.3 M272.5,771.7 V1060.3" fill="none" stroke="#2a2a2a" stroke-width="1.3"/><path d="M511,934.5 V941.5 H490 V934.5" fill="none" stroke="#2a2a2a" stroke-width="1.1"/><path d="M524.5,917.5 H468" fill="none" stroke="#2a2a2a" stroke-width="1.1"/><path d="M467.8,771.7 V1060.3 M459.5,771.7 V1060.3" fill="none" stroke="#2a2a2a" stroke-width="1.3"/><path d="M173,1000 L160,1004" fill="none" stroke="#2a2a2a" stroke-width="1.1"/><path d="M556,833 L570,830" fill="none" stroke="#2a2a2a" stroke-width="1.1"/><path d="M326,917.5 H272.5 M406,917.5 H459.5" fill="none" stroke="#2a2a2a" stroke-width="1.1"/><path d="M310,934.5 V941.5 H289 V934.5 M422,934.5 V941.5 H443 V934.5" fill="none" stroke="#2a2a2a" stroke-width="1.1"/><path d="M94,771.7 H637.5 M94,1060.3 H637.5" fill="none" stroke="#2a2a2a" stroke-width="1.3"/><path d="M205,771 V741 H288" fill="none" stroke="#2a2a2a" stroke-width="1.2"/><path d="M404,779.7 L423,741 H517" fill="none" stroke="#2a2a2a" stroke-width="1.2"/><path d="M525,771.7 L534.3,741 H623.7" fill="none" stroke="#2a2a2a" stroke-width="1.2"/><path d="M889.6,246 V286 H903.4 V246 M893,249 V259 L896,260 V276 L893,277 V283 H900 V249 Z" fill="none" stroke="#2a2a2a" stroke-width="1.1"/><path d="M735.5,213 L739,209 M735.5,213 L739,217 M1010.7,214 L1007,210 M1010.7,214 L1007,218" fill="none" stroke="#2a2a2a" stroke-width="1.1"/><path d="M853,250 V364 M873,248 V364 M876.5,248 V364 M886,248 V364 M889.5,248 V364" fill="none" stroke="#2a2a2a" stroke-width="1.1"/><path d="M889.6,364 V323.5 H905.4 V364 M893,327 V337 L896,338 V351 L893,352 V361 H901 V327 Z" fill="none" stroke="#2a2a2a" stroke-width="1.1"/><path d="M735.5,305 H1010.5 M735.5,312.5 H1010.5" fill="none" stroke="#2a2a2a" stroke-width="1.2" stroke-dasharray="13,7"/><path d="M735.5,291 V1073 M1010.5,291 V1075" fill="none" stroke="#2a2a2a" stroke-width="1.3"/><path d="M735.5,150 V250" fill="none" stroke="#2a2a2a" stroke-width="0"/><path d="M735.5,435.3 L741,431 M735.5,435.3 L741,439 M1010.5,435.3 L1005,431 M1010.5,435.3 L1005,439" fill="none" stroke="#2a2a2a" stroke-width="1.1"/><path d="M735.5,699.5 H1010.5 M735.5,714.5 H1010.5" fill="none" stroke="#2a2a2a" stroke-width="1.3"/><path d="M810.3,420 V537 M816.3,420 V537" fill="none" stroke="#2a2a2a" stroke-width="1.1"/><path d="M809,500 l2,3 l-2,3 l2,3 l-2,3 l2,3 l-2,3 l2,3 l-2,3 l2,3 M817.5,500 l-2,3 l2,3 l-2,3 l2,3 l-2,3 l2,3 l-2,3 l2,3 l-2,3" fill="none" stroke="#2a2a2a" stroke-width="0.9"/><path d="M803.75,609 V797.5 M807.5,609 V797.5 M818.75,609 V797.5 M822.5,609 V797.5 M803.75,609 H822.5" fill="none" stroke="#2a2a2a" stroke-width="1.1"/><path d="M777,602 V626 M849,602 V626" fill="none" stroke="#2a2a2a" stroke-width="0"/><path d="M803.75,700 V797.5 M807.5,700 V797.5 M818.75,700 V797.5 M822.5,700 V797.5 M803.75,797.5 H822.5" fill="none" stroke="#2a2a2a" stroke-width="1.1"/><path d="M929.3,420 V537 M935.3,420 V537" fill="none" stroke="#2a2a2a" stroke-width="1.1"/><path d="M928,500 l2,3 l-2,3 l2,3 l-2,3 l2,3 l-2,3 l2,3 l-2,3 l2,3 M936.5,500 l-2,3 l2,3 l-2,3 l2,3 l-2,3 l2,3 l-2,3 l2,3 l-2,3" fill="none" stroke="#2a2a2a" stroke-width="0.9"/><path d="M922.75,609 V797.5 M926.5,609 V797.5 M937.75,609 V797.5 M941.5,609 V797.5 M922.75,609 H941.5" fill="none" stroke="#2a2a2a" stroke-width="1.1"/><path d="M896,602 V626 M968,602 V626" fill="none" stroke="#2a2a2a" stroke-width="0"/><path d="M922.75,700 V797.5 M926.5,700 V797.5 M937.75,700 V797.5 M941.5,700 V797.5 M922.75,797.5 H941.5" fill="none" stroke="#2a2a2a" stroke-width="1.1"/><path d="M798,929 A15,15 0 0 1 828,929" fill="none" stroke="#2a2a2a" stroke-width="1.1"/><path d="M790,929 A23,23 0 0 1 836,929" fill="none" stroke="#2a2a2a" stroke-width="1.1"/><path d="M813,883.5 m-14,0 a14,14 0 1 0 28,0 a14,14 0 1 0 -28,0 M803,873 L823,893 M823,873 L803,893" fill="none" stroke="#2a2a2a" stroke-width="1.0"/><path d="M787,838 V905 M839,838 V905" fill="none" stroke="#2a2a2a" stroke-width="1.6"/><path d="M778,883.5 H848 M782,880 V887 M844,880 V887" fill="none" stroke="#2a2a2a" stroke-width="1.1"/><path d="M852,821 H875 M852,929 H875 M873.75,821 V929 M872,823 l3,0 M872,927 l3,0" fill="none" stroke="#2a2a2a" stroke-width="1.1"/><path d="M810,951 V975 M816,951 V975" fill="none" stroke="#2a2a2a" stroke-width="1.0"/><path d="M813.75,420 V992.5 M932,420 V1050" fill="none" stroke="#2a2a2a" stroke-width="1.1"/><path d="M909,966 A23,23 0 0 1 955,966" fill="none" stroke="#2a2a2a" stroke-width="1.1"/><path d="M932,918.75 m-14,0 a14,14 0 1 0 28,0 a14,14 0 1 0 -28,0 M927,914 L937,924 M937,914 L927,924" fill="none" stroke="#2a2a2a" stroke-width="1.0"/><path d="M966,870 V950" fill="none" stroke="#2a2a2a" stroke-width="1.6"/><path d="M929,986 V1030 M935,986 V1018" fill="none" stroke="#2a2a2a" stroke-width="1.0"/><path d="M1008,982 l4,-3" fill="none" stroke="#2a2a2a" stroke-width="1.0"/><path d="M1010,240.5 H1138" fill="none" stroke="#2a2a2a" stroke-width="1.2"/><path d="M644,280.5 H852" fill="none" stroke="#2a2a2a" stroke-width="1.2"/><path d="M1010,418.5 H1135" fill="none" stroke="#2a2a2a" stroke-width="1.2"/><path d="M972,574 H1100" fill="none" stroke="#2a2a2a" stroke-width="1.2"/><path d="M644,861.5 H773" fill="none" stroke="#2a2a2a" stroke-width="1.2"/><path d="M972,893.75 H1100" fill="none" stroke="#2a2a2a" stroke-width="1.2"/><path d="M1010,1018 H1123" fill="none" stroke="#2a2a2a" stroke-width="1.2"/><path d="M91,1185.2 H973.5 M91,1473.8 H973.5" fill="none" stroke="#2a2a2a" stroke-width="1.3"/><path d="M377.5,1185.2 V1473.8 M391.5,1185.2 V1473.8 M674,1185.2 V1473.8 M688,1185.2 V1473.8" fill="none" stroke="#2a2a2a" stroke-width="1.3"/><path d="M147,1270 H918" fill="none" stroke="#2a2a2a" stroke-width="1.1" stroke-dasharray="78,16"/><path d="M147,1389.2 H918" fill="none" stroke="#2a2a2a" stroke-width="1.1" stroke-dasharray="78,16"/><path d="M292,1383.5 H474 M292,1394 H474" fill="none" stroke="#2a2a2a" stroke-width="1.0"/><path d="M588,1264.5 H768 M588,1275.5 H768" fill="none" stroke="#2a2a2a" stroke-width="1.0"/><path d="M518,1323 L545,1329 L543,1333 L520,1327 Z" fill="none" stroke="#2a2a2a" stroke-width="1.0"/><path d="M490,1351 V1398 M494,1351 V1398" fill="none" stroke="#2a2a2a" stroke-width="1.0"/><path d="M305,1243 Q316,1270 305,1296.5 M309,1243.5 Q320,1270 309,1296 M378,1231 V1306 M397,1226 V1312.7 M420,1226 V1312.7 M423,1226 V1312.7 M426,1226 Q446,1269 426,1312.7 M430,1226 Q450,1269 430,1312.7 M437,1250 H452 M437,1288 H452 M390,1351 H454.8 M390,1356 H454.8" fill="none" stroke="#2a2a2a" stroke-width="1.1"/><path d="M452,1250 H474 M452,1290 H474" fill="none" stroke="#2a2a2a" stroke-width="1.0"/><path d="M578,1224 L587.6,1150.7 H687" fill="none" stroke="#2a2a2a" stroke-width="1.2"/><path d="M754.8,1224 L767.3,1150 H863.3" fill="none" stroke="#2a2a2a" stroke-width="1.2"/><path d="M902,1185 L913.2,1150 H1010" fill="none" stroke="#2a2a2a" stroke-width="1.2"/>
<text x="206" y="732.2" font-size="21" font-weight="bold" fill="#1a1a1a" textLength="83" lengthAdjust="spacingAndGlyphs">D798A10</text><text x="432" y="732.2" font-size="21" font-weight="bold" fill="#1a1a1a" textLength="83" lengthAdjust="spacingAndGlyphs">D798A14</text><text x="539" y="732.2" font-size="21" font-weight="bold" fill="#1a1a1a" textLength="83" lengthAdjust="spacingAndGlyphs">D798A10</text><text x="1031.5" y="231.7" font-size="21" font-weight="bold" fill="#1a1a1a" textLength="94" lengthAdjust="spacingAndGlyphs">D798A013</text><text x="652.5" y="273.2" font-size="21" font-weight="bold" fill="#1a1a1a" textLength="63" lengthAdjust="spacingAndGlyphs">76W19</text><text x="1023" y="409.7" font-size="21" font-weight="bold" fill="#1a1a1a" textLength="98" lengthAdjust="spacingAndGlyphs">D798A01C</text><text x="1025.5" y="564.7" font-size="21" font-weight="bold" fill="#1a1a1a" textLength="62" lengthAdjust="spacingAndGlyphs">76W03</text><text x="654.5" y="852.7" font-size="21" font-weight="bold" fill="#1a1a1a" textLength="62" lengthAdjust="spacingAndGlyphs">76W04</text><text x="1022.5" y="884.7" font-size="21" font-weight="bold" fill="#1a1a1a" textLength="62" lengthAdjust="spacingAndGlyphs">76W05</text><text x="1031.5" y="1005.7" font-size="21" font-weight="bold" fill="#1a1a1a" textLength="83" lengthAdjust="spacingAndGlyphs">D798A02</text><text x="607" y="1139.2" font-size="21" font-weight="bold" fill="#1a1a1a" textLength="62" lengthAdjust="spacingAndGlyphs">76W06</text><text x="779" y="1139.2" font-size="21" font-weight="bold" fill="#1a1a1a" textLength="62" lengthAdjust="spacingAndGlyphs">76W07</text><text x="922" y="1139.2" font-size="21" font-weight="bold" fill="#1a1a1a" textLength="62" lengthAdjust="spacingAndGlyphs">76W08</text>
</svg>
</body></html>
